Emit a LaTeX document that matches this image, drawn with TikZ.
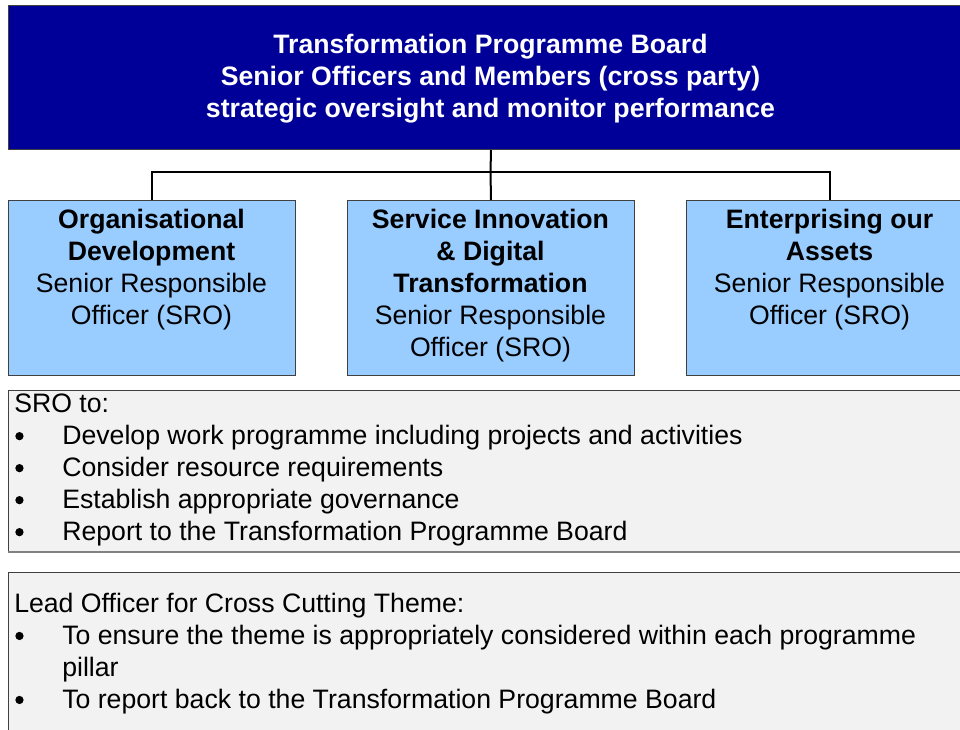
\documentclass[tikz,border=0pt]{standalone}
\usepackage{fontspec}
\setmainfont{Liberation Sans}
\definecolor{navy}{HTML}{000099}
\definecolor{lightblue}{HTML}{99CCFF}
\definecolor{panelgray}{HTML}{F2F2F2}
\definecolor{edgegray}{HTML}{404040}
\newcommand\bul{\makebox[36pt][l]{\hspace{0.8pt}\raisebox{3pt}{\tikz[x=1pt,y=1pt]\fill[black] (0,0) circle (3.1pt);}}}
\begin{document}
\begin{tikzpicture}[x=0.75pt,y=-0.75pt,
  box/.style={draw=edgegray, line width=0.75pt, anchor=north west, inner sep=0pt},
  boardbox/.style={box, fill=navy, minimum width=723.75pt, minimum height=108pt},
  pillarbox/.style={box, fill=lightblue, minimum width=215.25pt, minimum height=131.25pt},
  panel/.style={box, fill=panelgray, minimum width=723.75pt},
  txt/.style={font=\fontsize{20pt}{24pt}\selectfont, inner sep=0pt, anchor=north, align=center},
  listtxt/.style={font=\fontsize{20pt}{24pt}\selectfont, inner sep=0pt, anchor=north west, align=left},
  link/.style={draw=black, line width=1.5pt}
]
\useasboundingbox (0,0) rectangle (960,730);
\clip (0,0) rectangle (960,730);
% boxes
\node[boardbox] (board) at (8,5) {};
\node[pillarbox] (od) at (8,200) {};
\node[pillarbox] (sid) at (347,200) {};
\node[pillarbox] (eoa) at (686,200) {};
\node[panel, minimum height=120.75pt] (sro) at (8,390) {};
\node[panel, minimum height=129.75pt] (lead) at (8,572) {};
\draw[gray, line width=1.5pt] (sro.south west) -- (sro.south east);
% connectors
\coordinate (hub) at (490.5,172);
\draw[link] (board.south) -- (hub);
\draw[link] (od.north) |- (hub) -| (eoa.north);
\draw[link] (hub) -- (sid.north);
% texts
\node[txt, text=white, font=\fontsize{20pt}{24pt}\selectfont\bfseries] (boardtxt) at (490.5,33.6)
  {Transformation Programme Board\\Senior Officers and Members (cross party)\\strategic oversight and monitor performance};
\node[txt] (odtxt) at (151.5,208.6)
  {\textbf{Organisational}\\\textbf{Development}\\Senior Responsible\\Officer (SRO)};
\node[txt] (sidtxt) at (490.5,208.6)
  {\textbf{Service Innovation}\\\textbf{\& Digital}\\\textbf{Transformation}\\Senior Responsible\\Officer (SRO)};
\node[txt] (eoatxt) at (829.5,208.6)
  {\textbf{Enterprising our}\\\textbf{Assets}\\Senior Responsible\\Officer (SRO)};
\node[listtxt] (srotxt) at (14,393.4)
  {SRO to:\\
   \bul Develop work programme including projects and activities\\
   \bul Consider resource requirements\\
   \bul Establish appropriate governance\\
   \bul Report to the Transformation Programme Board};
\node[listtxt] (leadtxt) at (14,592.5)
  {Lead Officer for Cross Cutting Theme:\\
   \bul To ensure the theme is appropriately considered within each programme\\
   \hspace*{36pt}pillar\\
   \bul To report back to the Transformation Programme Board};
\end{tikzpicture}
\end{document}
